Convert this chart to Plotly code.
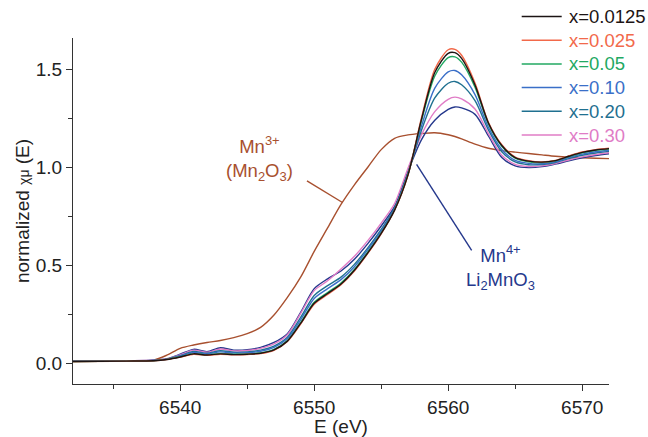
import plotly.graph_objects as go

# Energy grid (eV)
energy = [6532, 6536, 6538, 6539, 6540, 6541, 6542, 6543, 6544, 6545, 6546, 6547,
          6548, 6549, 6550, 6551, 6552, 6553, 6554, 6555, 6556, 6557, 6558, 6559,
          6560, 6560.5, 6561, 6562, 6563, 6564, 6565, 6566, 6567, 6568, 6569, 6570,
          6571, 6572]

# normalized chi-mu(E) for each sample
x_0125 = [0.008, 0.010, 0.012, 0.018, 0.031, 0.047, 0.041, 0.047, 0.043, 0.045, 0.050, 0.067,
          0.112, 0.204, 0.305, 0.355, 0.404, 0.474, 0.563, 0.662, 0.781, 0.961, 1.243, 1.484,
          1.582, 1.585, 1.556, 1.420, 1.226, 1.111, 1.049, 1.031, 1.026, 1.034, 1.056, 1.076,
          1.088, 1.095]
x_025 = [0.008, 0.010, 0.012, 0.018, 0.030, 0.045, 0.040, 0.045, 0.042, 0.044, 0.048, 0.065,
         0.110, 0.200, 0.300, 0.350, 0.400, 0.470, 0.560, 0.660, 0.780, 0.960, 1.250, 1.500,
         1.600, 1.602, 1.572, 1.430, 1.230, 1.115, 1.052, 1.033, 1.027, 1.035, 1.058, 1.078,
         1.090, 1.097]
x_05 = [0.008, 0.010, 0.012, 0.019, 0.032, 0.048, 0.042, 0.049, 0.045, 0.047, 0.052, 0.070,
        0.115, 0.208, 0.310, 0.360, 0.409, 0.478, 0.567, 0.665, 0.783, 0.963, 1.236, 1.466,
        1.560, 1.564, 1.537, 1.409, 1.221, 1.107, 1.046, 1.028, 1.024, 1.033, 1.055, 1.074,
        1.086, 1.093]
x_10 = [0.009, 0.011, 0.013, 0.019, 0.036, 0.054, 0.047, 0.057, 0.051, 0.053, 0.060, 0.080,
        0.125, 0.222, 0.330, 0.380, 0.426, 0.492, 0.579, 0.675, 0.787, 0.967, 1.209, 1.404,
        1.487, 1.494, 1.472, 1.371, 1.204, 1.091, 1.035, 1.020, 1.018, 1.028, 1.049, 1.067,
        1.079, 1.087]
x_20 = [0.009, 0.011, 0.013, 0.020, 0.038, 0.059, 0.050, 0.063, 0.055, 0.057, 0.066, 0.087,
        0.132, 0.234, 0.345, 0.395, 0.439, 0.504, 0.588, 0.682, 0.791, 0.971, 1.188, 1.354,
        1.429, 1.438, 1.421, 1.340, 1.191, 1.079, 1.027, 1.013, 1.014, 1.024, 1.044, 1.061,
        1.073, 1.081]
x_30 = [0.010, 0.012, 0.014, 0.021, 0.042, 0.066, 0.055, 0.072, 0.062, 0.064, 0.075, 0.098,
        0.145, 0.255, 0.370, 0.420, 0.480, 0.545, 0.625, 0.715, 0.815, 0.995, 1.165, 1.284,
        1.347, 1.358, 1.349, 1.297, 1.172, 1.061, 1.015, 1.004, 1.007, 1.019, 1.037, 1.053,
        1.065, 1.074]
li2mno3 = [0.010, 0.012, 0.014, 0.022, 0.045, 0.070, 0.058, 0.078, 0.066, 0.068, 0.080, 0.105,
           0.150, 0.260, 0.380, 0.430, 0.470, 0.530, 0.610, 0.700, 0.800, 0.980, 1.140, 1.240,
           1.295, 1.308, 1.303, 1.270, 1.160, 1.050, 1.007, 0.998, 1.003, 1.016, 1.033, 1.048,
           1.060, 1.069]
mn2o3 = [0.008, 0.010, 0.015, 0.040, 0.075, 0.092, 0.105, 0.115, 0.130, 0.150, 0.182, 0.245,
         0.335, 0.440, 0.570, 0.690, 0.810, 0.910, 1.000, 1.090, 1.148, 1.165, 1.172, 1.176,
         1.166, 1.157, 1.145, 1.118, 1.097, 1.085, 1.077, 1.070, 1.063, 1.056, 1.051, 1.048,
         1.046, 1.044]

labels = ["x=0.0125", "x=0.025", "x=0.05", "x=0.10", "x=0.20", "x=0.30"]
series = [x_0125, x_025, x_05, x_10, x_20, x_30]
colors = ["#1c1414", "#f2694a", "#22a862", "#3a6fc8", "#1f7090", "#e07cc6"]

brown = "#a8502f"
navy = "#25388c"

FONT = "Arial, Liberation Sans, sans-serif"

W, H = 648, 437
ML, MR, MT, MB = 73, 39, 38, 53
PW, PH = W - ML - MR, H - MT - MB

fig = go.Figure()

fig.add_trace(go.Scatter(x=energy, y=mn2o3, mode="lines", name="Mn2O3", showlegend=False,
                         line=dict(color=brown, width=1.4, shape="spline", smoothing=0.8)))
fig.add_trace(go.Scatter(x=energy, y=li2mno3, mode="lines", name="Li2MnO3", showlegend=False,
                         line=dict(color=navy, width=1.4, shape="spline", smoothing=0.8)))
# draw in reverse order so low-x curves end on top
for lab, ys, c in reversed(list(zip(labels, series, colors))):
    fig.add_trace(go.Scatter(x=energy, y=ys, mode="lines", name=lab, showlegend=False,
                             line=dict(color=c, width=1.4, shape="spline", smoothing=0.8)))

# legend (drawn as key lines + coloured labels, top right)
leg_x0, leg_x1, leg_tx = 521.7, 561.7, 567.0
leg_y0, leg_dy = 16.5, 23.7
for i, (lab, c) in enumerate(zip(labels, colors)):
    py = leg_y0 + i * leg_dy
    yp = (H - MB - py) / PH
    fig.add_shape(type="line", xref="paper", yref="paper",
                  x0=(leg_x0 - ML) / PW, x1=(leg_x1 - ML) / PW, y0=yp, y1=yp,
                  line=dict(color=c, width=1.5))
    fig.add_annotation(xref="paper", yref="paper", x=(leg_tx - ML) / PW, y=yp,
                       xanchor="left", yanchor="middle", showarrow=False, text=lab,
                       font=dict(family=FONT, size=18.5, color=c))

# annotation leader lines
fig.add_shape(type="line", x0=6549.46, y0=0.930, x1=6552.11, y1=0.820,
              line=dict(color=brown, width=1.4))
fig.add_shape(type="line", x0=6557.64, y0=1.015, x1=6561.75, y1=0.575,
              line=dict(color=navy, width=1.4))

fig.add_annotation(x=6545.93, y=1.045, xref="x", yref="y", showarrow=False,
                   text="Mn<sup>3+</sup><br>(Mn<sub>2</sub>O<sub>3</sub>)",
                   font=dict(family=FONT, size=18.5, color=brown), align="center")
fig.add_annotation(x=6563.9, y=0.49, xref="x", yref="y", showarrow=False,
                   text="Mn<sup>4+</sup><br>Li<sub>2</sub>MnO<sub>3</sub>",
                   font=dict(family=FONT, size=18.5, color=navy), align="center")

axis_common = dict(showgrid=False, zeroline=False, showline=True, linecolor="#333333",
                   linewidth=1.3, ticks="outside", tickcolor="#333333", ticklen=6,
                   tickwidth=1.2, tickfont=dict(family=FONT, size=19, color="#222222"),
                   mirror=False)

fig.update_layout(
    width=W, height=H,
    margin=dict(l=ML, r=MR, t=MT, b=MB, autoexpand=False),
    paper_bgcolor="white", plot_bgcolor="white",
    xaxis=dict(range=[6532, 6572], tickmode="array", tickvals=[6540, 6550, 6560, 6570],
               minor=dict(tickvals=[6535, 6545, 6555, 6565], ticks="outside", ticklen=4,
                          tickcolor="#333333", tickwidth=1.2),
               title=dict(text="E (eV)", font=dict(family=FONT, size=19, color="#222222"),
                          standoff=1),
               **axis_common),
    yaxis=dict(range=[-0.107, 1.66], tickmode="array", tickvals=[0.0, 0.5, 1.0, 1.5],
               ticktext=["0.0", "0.5", "1.0", "1.5"],
               minor=dict(tickvals=[0.25, 0.75, 1.25], ticks="outside", ticklen=4,
                          tickcolor="#333333", tickwidth=1.2),
               title=dict(text='normalized <span style="font-size:14px">χμ</span> (E)',
                          font=dict(family=FONT, size=19, color="#222222"), standoff=0),
               **axis_common),
    showlegend=False,
)

fig.write_html("out.html", config={"displayModeBar": False},
               post_script="document.body.style.margin='0';document.body.style.overflow='hidden';")
